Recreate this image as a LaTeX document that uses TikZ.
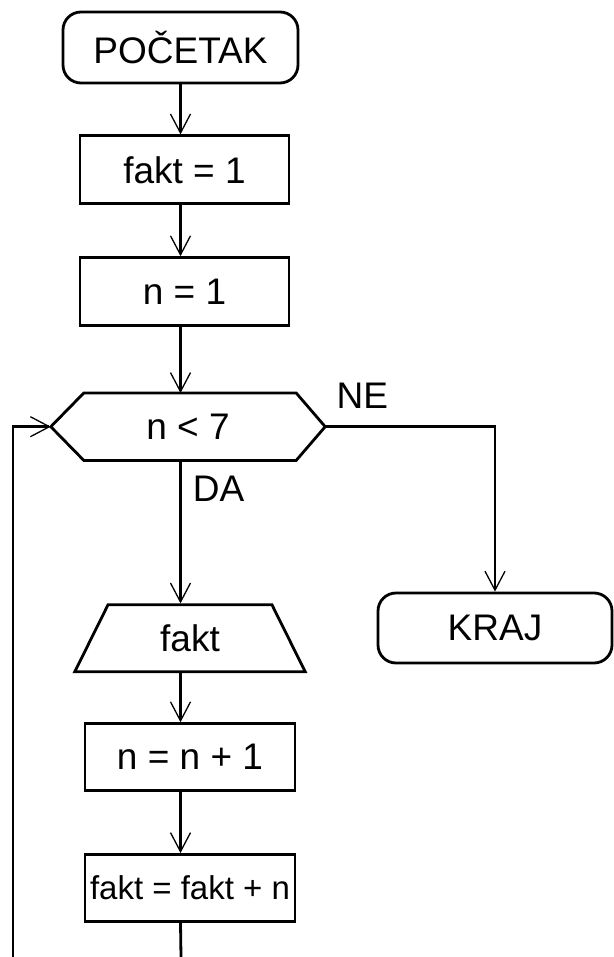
\documentclass[tikz,border=0pt]{standalone}
\usepackage{fontspec}
\setmainfont{Liberation Sans}
\usetikzlibrary{shapes.geometric, arrows.meta, positioning, calc}
\tikzset{
	term/.style ={rectangle, rounded corners=18pt, draw=black, line width=2.8pt, minimum width=235pt, minimum height=71pt, inner sep=0pt, align=center},
	proc/.style ={rectangle, draw=black, line width=2.8pt, minimum width=209pt, minimum height=68pt, inner sep=0pt, align=center},
	outp/.style ={trapezium, trapezium left angle=66, trapezium right angle=66, trapezium stretches=true, draw=black, line width=2.8pt, minimum width=231pt, minimum height=67pt, inner sep=0pt},
	cond/.style ={rectangle, minimum width=274pt, minimum height=67pt, inner sep=0pt},
	wire/.style ={line width=2.8pt},
	flow/.style ={line width=2.8pt, -{Straight Barb[length=19pt, width=20pt, line width=1.3pt]}},
	lbl/.style  ={inner sep=0pt},
}
\begin{document}
\begin{tikzpicture}[x=1pt, y=1pt, font=\fontsize{37}{44}\selectfont]
	\useasboundingbox (0,0) rectangle (613,-957);
	\node[term] (start) at (180.5,-47.5) {POČETAK};
	\node[proc, below=50pt of start, xshift=4pt] (f1) {fakt = 1};
	\node[proc, below=51pt of f1] (n1) {n = 1};
	\node[cond, below=66pt of n1, xshift=3.5pt] (c) {n < 7};
	\draw[wire] (c.west) -- ([xshift=33pt]c.north west) -- ([xshift=-29pt]c.north east) -- (c.east)
		-- ([xshift=-29pt]c.south east) -- ([xshift=33pt]c.south west) -- cycle;
	\node[outp, below=143pt of c, xshift=2pt] (out) {fakt};
	\node[term, minimum width=234pt, minimum height=70pt] (end) at (495,-628) {KRAJ};
	\node[proc, below=49pt of out, minimum width=210pt, minimum height=67pt] (nn) {n = n + 1};
	\node[proc, below=61pt of nn, minimum width=210pt, minimum height=67pt, font=\fontsize{33}{40}\selectfont] (ff) {fakt = fakt + n};
	% loop ends cut by the page edge
	\coordinate (loopa) at (13,-957);
	\coordinate (loopb) at (181,-957);
	\draw[flow] (start.south) -- (start.south |- f1.north);
	\draw[flow] (f1.south -| start) -- (n1.north -| start);
	\draw[flow] (n1.south -| start) -- (c.north -| start);
	\draw[flow] (c.south -| start) -- node[lbl, pos=0.2, right=11pt] {DA} (out.north -| start);
	\draw[flow] (c.east) -| node[lbl, pos=0, above right=17pt and 10pt] {NE} (end.north);
	\draw[flow] (out.south -| start) -- (nn.north -| start);
	\draw[flow] (nn.south -| start) -- (ff.north -| start);
	\draw[wire] (ff.south -| start) -- (loopb);
	\draw[flow] (loopa) |- (c.west);
\end{tikzpicture}
\end{document}
